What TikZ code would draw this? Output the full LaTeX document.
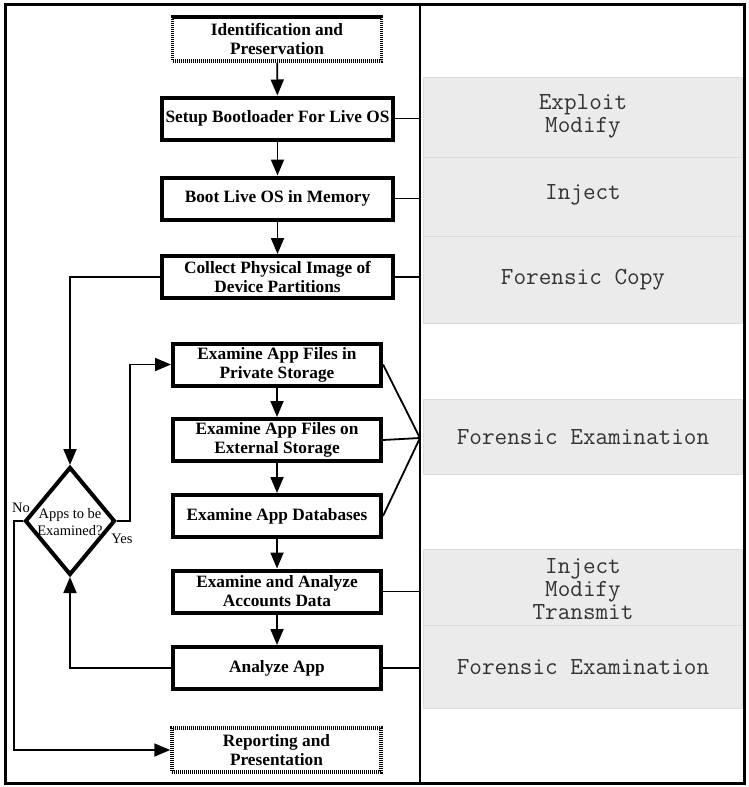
\documentclass[tikz,border=0pt]{standalone}
\usepackage{fontspec}
\setmainfont{Liberation Serif}
\usetikzlibrary{arrows.meta,shapes.geometric}
\begin{document}
\begin{tikzpicture}[x=1pt,y=-1pt,
 proc/.style={draw, line width=4pt, minimum width=208pt, minimum height=42pt, inner sep=0pt, align=center, font=\fontsize{17.3}{19}\selectfont\bfseries},
 wide/.style={proc, minimum width=231pt},
 term/.style={proc, line width=3.5pt, dash pattern=on 1.1pt off 0.9pt, minimum width=209pt, minimum height=44pt},
 band/.style={fill=black!8, draw=black!14, line width=0.8pt},
 lab/.style={font=\fontsize{24.5}{22.7}\selectfont\ttfamily, align=center, text=black!80},
 small/.style={font=\fontsize{14.5}{17}\selectfont, align=center, inner sep=0pt},
 conn/.style={line width=1.8pt},
 arr/.style={conn, -{Triangle[length=16pt,width=13pt]}},
]
\useasboundingbox (0,0) rectangle (749,787);
\fill[white] (0,0) rectangle (749,787);

% right column bands
\draw[band] (423,77) rectangle (742,157);
\draw[band] (423,157) rectangle (742,236);
\draw[band] (423,236) rectangle (742,323);
\draw[band] (423,399) rectangle (742,474);
\draw[band] (423,549) rectangle (742,625);
\draw[band] (423,625) rectangle (742,708);
\node[lab] (l1) at (583,116.5) {Exploit\\Modify};
\node[lab] (l2) at (583,195) {Inject};
\node[lab] (l3) at (583,280) {Forensic Copy};
\node[lab] (l4) at (583,437) {Forensic Examination};
\node[lab] (l5) at (583,589) {Inject\\Modify\\Transmit};
\node[lab] (l6) at (583,667) {Forensic Examination};

% frame
\draw[line width=3pt] (5,4) rectangle (744,783);
\coordinate (divtop) at (420,4);
\coordinate (divbot) at (420,783);
\draw[line width=2pt] (divtop) -- (divbot);

% flow nodes
\node[term] (idp) at (277,39) {Identification and\\Preservation};
\node[wide] (setup) at (277.5,118.5) {Setup Bootloader For Live OS};
\node[wide] (boot) at (277.5,198.5) {Boot Live OS in Memory};
\node[wide] (coll) at (277.5,277) {Collect Physical Image of\\Device Partitions};
\node[proc] (priv) at (277,364.5) {Examine App Files in\\Private Storage};
\node[proc] (ext) at (277,440) {Examine App Files on\\External Storage};
\node[proc] (db) at (277,516) {Examine App Databases};
\node[proc] (acc) at (277,591.5) {Examine and Analyze\\Accounts Data};
\node[proc] (ana) at (277,668) {Analyze App};
\node[term] (rep) at (276.5,750) {Reporting and\\Presentation};
\node[diamond, draw, line width=4pt, minimum width=90pt, minimum height=108pt, inner sep=0pt] (dec) at (70,521) {};
\node[small] (dect) at (70,522.5) {Apps to be\\Examined?};
\node[small] (no) at (21,508) {No};
\node[small] (yes) at (122,539) {Yes};

% vertical arrows
\draw[arr] (idp) -- (setup);
\draw[arr] (setup) -- (boot);
\draw[arr] (boot) -- (coll);
\draw[arr] (priv) -- (ext);
\draw[arr] (ext) -- (db);
\draw[arr] (db) -- (acc);
\draw[arr] (acc) -- (ana);

% loop connectors
\draw[arr] (coll.west) -| (dec.north);
\draw[arr] (dec.east) -- ++(13,0) |- (priv.west);
\draw[arr] (dec.west) -- ++(-9,0) |- (rep.west);
\draw[arr] (ana.west) -| (dec.south);

% links to right column
\draw[conn] (setup.east) -- (setup.east -| divtop);
\draw[conn] (boot.east) -- (boot.east -| divtop);
\draw[conn] (coll.east) -- (coll.east -| divtop);
\coordinate (fan) at (420,438);
\draw[conn] (priv.east) -- (fan) -- (db.east);
\draw[conn] (ext.east) -- (fan);
\draw[conn] (acc.east) -- (acc.east -| divtop);
\draw[conn] (ana.east) -- (ana.east -| divtop);
\end{tikzpicture}
\end{document}
